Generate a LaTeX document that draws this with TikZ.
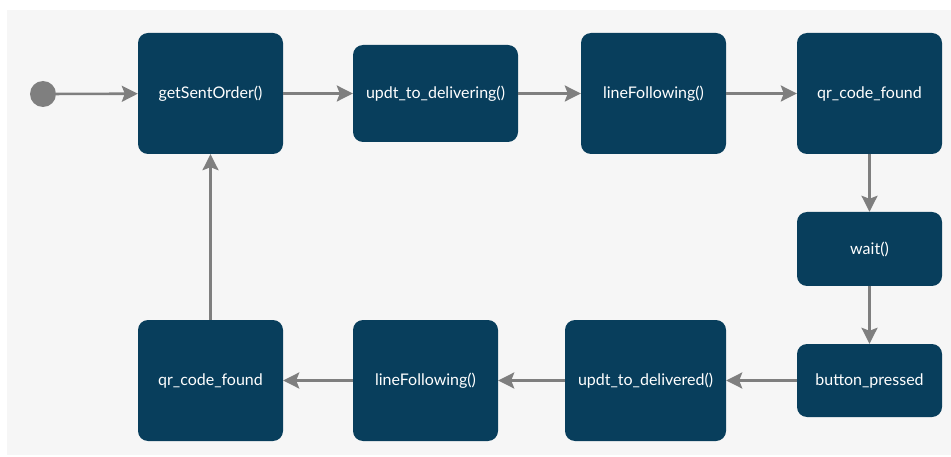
\documentclass[tikz,border=0pt]{standalone}
\usepackage{fontspec}
\setmainfont{Lato}
\usetikzlibrary{arrows.meta}
\definecolor{panel}{HTML}{F6F6F6}
\definecolor{boxc}{HTML}{083E5C}
\definecolor{arrc}{HTML}{7F7F7F}
\begin{document}
\begin{tikzpicture}[x=1pt,y=-1pt,
  state/.style={draw=none,fill=boxc,rounded corners=10pt,text=white,
    font=\fontsize{16}{18}\selectfont,inner sep=0pt,anchor=center},
  flow/.style={draw=arrc,line width=2.6pt,
    -{Stealth[length=16pt,width=16pt,inset=3pt]}}]
\useasboundingbox (0,0) rectangle (951,457);
\fill[white] (0,0) rectangle (951,457);
\fill[panel] (7,10) rectangle (951,455);
\node[circle,fill=arrc,minimum size=26pt,inner sep=0pt] (init) at (43,94) {};
\node[state,minimum width=145pt,minimum height=121pt] (get) at (210.5,93.5) {getSentOrder()};
\node[state,minimum width=165pt,minimum height=97pt] (updt1) at (435.5,93.5) {updt\_to\_delivering()};
\node[state,minimum width=145pt,minimum height=121pt] (lf1) at (653.5,93.5) {lineFollowing()};
\node[state,minimum width=145pt,minimum height=121pt] (qr1) at (869.5,93.5) {qr\_code\_found};
\node[state,minimum width=145pt,minimum height=74pt] (wait) at (869.5,249) {wait()};
\node[state,minimum width=145pt,minimum height=73pt] (btn) at (869.5,380.5) {button\_pressed};
\node[state,minimum width=161pt,minimum height=121pt] (updt2) at (645.5,380.5) {updt\_to\_delivered()};
\node[state,minimum width=145pt,minimum height=121pt] (lf2) at (425.5,380.5) {lineFollowing()};
\node[state,minimum width=145pt,minimum height=121pt] (qr2) at (210.5,380.5) {qr\_code\_found};
\draw[flow] (init) -- (get);
\draw[flow] (get) -- (updt1);
\draw[flow] (updt1) -- (lf1);
\draw[flow] (lf1) -- (qr1);
\draw[flow] (qr1) -- (wait);
\draw[flow] (wait) -- (btn);
\draw[flow] (btn) -- (updt2);
\draw[flow] (updt2) -- (lf2);
\draw[flow] (lf2) -- (qr2);
\draw[flow] (qr2) -- (get);
\end{tikzpicture}
\end{document}
